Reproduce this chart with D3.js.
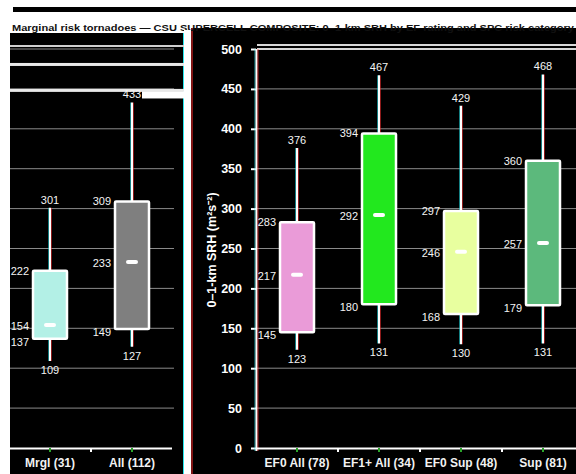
<!DOCTYPE html>
<html><head><meta charset="utf-8">
<script src="https://cdn.jsdelivr.net/npm/d3@7"></script>
<style>
html,body{margin:0;padding:0;background:#fff;}
svg{display:block;font-family:"Liberation Sans",Arial,sans-serif;}
</style></head>
<body><svg id="chart" width="576" height="474"></svg>
<script>
// ---- data ----
const leftCategories = ["Mrgl (31)", "All (112)"];
const leftLow    = [109, 127];
const leftQ1     = [137, 149];
const leftMedian = [154, 233];
const leftQ3     = [222, 309];
const leftHigh   = [301, 433];
const leftColors = ["#b3f0e6", "#7f7f7f"];

const rightCategories = ["EF0 All (78)", "EF1+ All (34)", "EF0 Sup (48)", "Sup (81)"];
const rightLow    = [123, 131, 130, 131];
const rightQ1     = [145, 180, 168, 179];
const rightMedian = [217, 292, 246, 257];
const rightQ3     = [283, 394, 297, 360];
const rightHigh   = [376, 467, 429, 468];
const rightColors = ["#ea9bd8", "#22e81e", "#e8ff9f", "#5cb97c"];

const yTicks = [0, 50, 100, 150, 200, 250, 300, 350, 400, 450, 500];
const titleText = "Marginal risk tornadoes — CSU SUPERCELL COMPOSITE: 0–1-km SRH by EF rating and SPC risk category";
const yTitle = "0–1-km SRH (m²s⁻²)";

// ---- layout ----
const svg = d3.select("#chart");
const y = d3.scaleLinear().domain([0, 500]).range([448, 49]);
const xL = d3.scaleBand().domain(leftCategories).range([9, 173]).padding(0);
const xR = d3.scaleBand().domain(rightCategories).range([256, 584]).padding(0);
const boxW = 34;

// background panels
svg.append("rect").attr("x", 13).attr("y", 7).attr("width", 563).attr("height", 5).attr("fill", "#000");
svg.append("rect").attr("x", 10).attr("y", 33).attr("width", 174).attr("height", 441).attr("fill", "#000");
svg.append("rect").attr("x", 191).attr("y", 28).attr("width", 385).attr("height", 446).attr("fill", "#000");
svg.append("line").attr("x1", 192).attr("x2", 192).attr("y1", 28).attr("y2", 474).attr("stroke", "#ff2a2a").attr("stroke-width", 1);
svg.append("line").attr("x1", 183.5).attr("x2", 183.5).attr("y1", 33).attr("y2", 474).attr("stroke", "#27e8ee").attr("stroke-width", 1);

// title
svg.append("text").attr("x", 12).attr("y", 31).attr("font-size", 9.5).attr("font-weight", "bold")
  .attr("fill", "#111").attr("textLength", 562).attr("lengthAdjust", "spacingAndGlyphs").text(titleText);

// grid lines
const gridVals = yTicks.filter(v => v > 0);
svg.append("g").selectAll("line").data(gridVals).join("line")
  .attr("x1", 257).attr("x2", 576).attr("y1", d => y(d)).attr("y2", d => y(d))
  .attr("stroke", "#8a8a8a").attr("stroke-width", 1);
svg.append("g").selectAll("line").data(gridVals).join("line")
  .attr("x1", 10).attr("x2", 174).attr("y1", d => y(d)).attr("y2", d => y(d))
  .attr("stroke", "#8a8a8a").attr("stroke-width", 1);

// smeared bands (image artefacts along the top gridlines)
svg.append("rect").attr("x", 257).attr("y", y(500) - 5).attr("width", 319).attr("height", 2).attr("fill", "#d8d8d8");
svg.append("rect").attr("x", 257).attr("y", y(500) - 1).attr("width", 319).attr("height", 2).attr("fill", "#d8d8d8");
svg.append("rect").attr("x", 10).attr("y", y(500) - 4).attr("width", 174).attr("height", 2).attr("fill", "#cfcfcf");
svg.append("rect").attr("x", 10).attr("y", y(480) - 2).attr("width", 174).attr("height", 3).attr("fill", "#e8e8e8");
svg.append("rect").attr("x", 10).attr("y", y(450)).attr("width", 174).attr("height", 3).attr("fill", "#e8e8e8");

// right y axis
const yAxis = d3.axisLeft(y).tickValues(yTicks).tickSize(5).tickPadding(9);
const gy = svg.append("g").attr("transform", "translate(256,0)").call(yAxis);
gy.select(".domain").remove();
gy.selectAll(".tick line").attr("stroke", "#fff").attr("stroke-width", 2);
gy.selectAll(".tick text").attr("fill", "#fff").attr("font-size", 12.5).attr("font-weight", "bold")
  .attr("font-family", "Liberation Sans, Arial, sans-serif");
svg.append("line").attr("x1", 255).attr("x2", 255).attr("y1", y(500)).attr("y2", y(0) + 3).attr("stroke", "#27e8ee").attr("stroke-width", 1).attr("opacity", 0.7);
svg.append("line").attr("x1", 256.5).attr("x2", 256.5).attr("y1", y(500)).attr("y2", y(0) + 3).attr("stroke", "#fff").attr("stroke-width", 2);
svg.append("line").attr("x1", 258).attr("x2", 258).attr("y1", y(500)).attr("y2", y(0) + 3).attr("stroke", "#ff3030").attr("stroke-width", 1).attr("opacity", 0.7);

svg.append("text").attr("transform", "translate(216,250) rotate(-90)").attr("text-anchor", "middle")
  .attr("fill", "#fff").attr("font-size", 12.5).attr("font-weight", "bold").text(yTitle);

// x axes
function xAxisDraw(x, x0, x1, cats) {
  svg.append("line").attr("x1", x0).attr("x2", x1).attr("y1", y(0) + 0.5).attr("y2", y(0) + 0.5)
    .attr("stroke", "#fff").attr("stroke-width", 2);
  const ticks = [];
  cats.forEach(c => { ticks.push(x(c) + x.bandwidth() / 2); ticks.push(x(c) + x.bandwidth()); });
  svg.append("g").selectAll("line").data(ticks.filter(t => t <= x1)).join("line")
    .attr("x1", d => d).attr("x2", d => d).attr("y1", y(0)).attr("y2", y(0) + 4)
    .attr("stroke", (d, i) => i % 2 ? "#fff" : "#2aa52a").attr("stroke-width", 2);
  svg.append("g").selectAll("text").data(cats).join("text")
    .attr("x", d => x(d) + x.bandwidth() / 2).attr("y", y(0) + 19).attr("text-anchor", "middle")
    .attr("fill", "#f2f2f2").attr("font-size", 12).attr("font-weight", "bold").text(d => d);
}
xAxisDraw(xL, 10, 172, leftCategories);
xAxisDraw(xR, 256, 576, rightCategories);

// boxes
function drawBoxes(x, cats, low, q1, med, q3, high, colors, streakTo) {
  cats.forEach((c, i) => {
    const cx = x(c) + x.bandwidth() / 2;
    const g = svg.append("g");
    // smeared streak right of high label (artefact)
    if (streakTo) {
      g.append("rect").attr("x", cx + 10).attr("y", y(high[i]) - 12).attr("width", Math.max(0, streakTo - cx - 10))
        .attr("height", 7).attr("fill", "#fff");
      g.append("rect").attr("x", cx + 12).attr("y", y(high[i]) - 10).attr("width", Math.max(0, streakTo - cx - 12))
        .attr("height", 2).attr("fill", "#000").attr("opacity", 0.6);
    }
    // whiskers with faint colour fringes
    [[-1.5, "#27e8ee"], [1.5, "#ff3030"], [0, "#fff"]].forEach(([dx, col]) => {
      g.append("line").attr("x1", cx + dx).attr("x2", cx + dx).attr("y1", y(high[i])).attr("y2", y(low[i]))
        .attr("stroke", col).attr("stroke-width", dx === 0 ? 2 : 1).attr("opacity", dx === 0 ? 1 : 0.55);
    });
    g.append("rect").attr("x", cx - boxW / 2).attr("y", y(q3[i])).attr("width", boxW)
      .attr("height", y(q1[i]) - y(q3[i])).attr("fill", colors[i]).attr("stroke", "#fff").attr("stroke-width", 2.5).attr("rx", 1);
    g.append("rect").attr("x", cx - 6).attr("y", y(med[i]) - 2).attr("width", 12).attr("height", 4)
      .attr("rx", 2).attr("fill", "#fff");
    const lab = (txt, lx, ly, anchor) => g.append("text").attr("x", lx).attr("y", ly).attr("dy", "0.35em")
      .attr("text-anchor", anchor).attr("fill", "#f4f4f4").attr("font-size", 11).text(txt);
    const lx = cx - boxW / 2 - 4;
    lab(q3[i], lx, y(q3[i]), "end");
    lab(med[i], lx, y(med[i]) + 1, "end");
    lab(q1[i], lx, y(q1[i]) + 3, "end");
    lab(high[i], cx, y(high[i]) - 8, "middle");
    lab(low[i], cx, y(low[i]) + 9, "middle");
  });
}
drawBoxes(xL, leftCategories, leftLow, leftQ1, leftMedian, leftQ3, leftHigh, leftColors, 0);
drawBoxes(xR, rightCategories, rightLow, rightQ1, rightMedian, rightQ3, rightHigh, rightColors, 0);

// streak right of the "All (112)" top label
svg.append("rect").attr("x", xL("All (112)") + xL.bandwidth() / 2 + 10).attr("y", y(leftHigh[1]) - 11)
  .attr("width", 184 - (xL("All (112)") + xL.bandwidth() / 2 + 10)).attr("height", 7).attr("fill", "#fff");

// white divider strip between panels
svg.append("rect").attr("x", 184).attr("y", 30).attr("width", 7).attr("height", 444).attr("fill", "#fff");
</script></body></html>
